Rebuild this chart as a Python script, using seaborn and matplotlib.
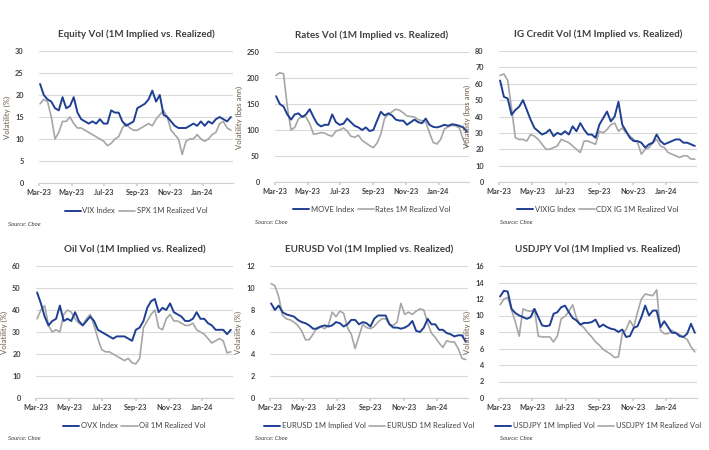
import numpy as np
import pandas as pd
import matplotlib
matplotlib.use("Agg")
import matplotlib.pyplot as plt
import matplotlib.dates as mdates
import seaborn as sns

# weekly readings (Fridays), Mar-23 .. Feb-24
dates = pd.date_range("2023-03-03", "2024-02-23", freq="W-FRI")

vix = [22.5, 20, 19, 18.5, 17, 16.5, 19.5, 17, 17.5, 19.5, 16, 14.5, 14,
       13.5, 14, 13.5, 14.5, 13.5, 13.5, 16.5, 16, 16, 14, 13, 13.5, 14,
       17, 17.5, 18, 19, 21, 18.5, 20, 15.5, 15, 14, 13, 12.5, 12.5, 12.5,
       13, 13.5, 13, 14, 13, 14, 13.5, 14.5, 15, 14.5, 14, 15]
spx_rv = [18, 19, 18.5, 15, 10, 11.5, 14, 14, 15, 13.5, 12.5, 12.5, 12,
          11.5, 11, 10.5, 10, 9.5, 8.5, 9, 10, 10.5, 12.5, 13.5, 12.5, 12,
          12, 12.5, 13, 13.5, 13, 14.5, 15.5, 16.5, 15, 12, 11, 10, 6.5, 9.5,
          10, 10, 11, 10, 9.5, 10, 11, 11.5, 13.5, 14, 12.5, 12]

move = [165, 150, 145, 130, 120, 130, 132, 125, 130, 140, 125, 112, 107,
        110, 110, 130, 115, 110, 112, 122, 115, 108, 105, 100, 105, 98,
        100, 118, 135, 128, 132, 128, 120, 118, 118, 110, 115, 120, 115,
        113, 122, 110, 106, 105, 107, 110, 108, 111, 110, 108, 105, 97]
rates_rv = [205, 210, 208, 145, 100, 105, 122, 126, 125, 112, 92, 93, 95,
            94, 90, 88, 98, 100, 104, 98, 88, 86, 90, 80, 75, 70, 66, 75,
            92, 122, 130, 135, 140, 138, 133, 127, 126, 125, 120, 118, 115,
            95, 76, 73, 82, 102, 106, 109, 108, 104, 82, 68]

vixig = [62, 52, 51, 41, 44, 46, 50, 44, 38, 33, 31, 29, 30, 32, 28, 30,
         29, 31, 29, 34, 31, 36, 32, 29, 29, 27, 35, 39, 43, 37, 40, 49,
         35, 31, 27, 25, 25, 24, 21, 23, 24, 29, 25, 23, 24, 25, 26, 26,
         24, 24, 23, 22]
cdx_rv = [65, 66, 62, 45, 27, 26, 26, 25, 29, 28, 26, 23, 20, 20, 21, 22,
          26, 25, 24, 22, 20, 18, 25, 25, 24, 23, 31, 30, 32, 35, 36, 31,
          33, 30, 28, 26, 24, 17, 20, 21, 24, 26, 22, 21, 18, 17, 16, 15,
          16, 16, 14, 14]

ovx = [48, 43, 37, 33, 35, 36, 42, 35, 36, 35, 39, 35, 33, 35, 37, 35,
       31, 30, 29, 28, 27, 28, 28, 28, 27, 26, 31, 32, 35, 41, 44, 45, 39,
       41, 40, 43, 39, 38, 37, 35, 35, 36, 39, 36, 36, 34, 33, 31, 31, 31,
       29, 31]
oil_rv = [36, 40, 42, 33, 30, 31, 30, 38, 40, 39, 36, 34, 33, 36, 38, 33,
          27, 22, 21, 21, 20, 19, 18, 17, 18, 16, 15.5, 18, 32, 35, 38, 40,
          32, 31, 36, 38, 35, 35, 34, 33, 33, 34, 31, 30, 29, 27, 25, 26,
          27, 26, 20.5, 21]

eur_iv = [8.6, 8.0, 8.4, 7.8, 7.6, 7.5, 7.4, 7.1, 6.9, 6.8, 6.6, 6.3, 6.3,
          6.5, 6.6, 6.5, 6.6, 6.9, 6.8, 6.5, 6.7, 7.1, 7.1, 6.7, 6.9, 6.8,
          6.5, 7.2, 7.5, 7.5, 7.5, 6.7, 6.4, 6.4, 6.3, 6.4, 6.6, 7.0, 6.1,
          6.0, 6.4, 7.2, 6.7, 6.7, 6.2, 6.2, 5.9, 5.8, 5.6, 5.7, 5.7, 5.1]
eur_rv = [10.4, 10.2, 9.2, 7.5, 7.2, 7.1, 6.9, 6.6, 6.1, 5.3, 5.3, 5.8,
          6.4, 6.5, 6.3, 6.6, 7.8, 7.4, 7.9, 7.7, 6.4, 5.8, 4.5, 5.6, 6.7,
          6.4, 6.3, 6.5, 6.9, 7.2, 7.2, 6.7, 6.6, 6.9, 8.6, 7.6, 7.8, 7.6,
          7.9, 8.1, 8.0, 6.8, 5.9, 5.5, 5.0, 4.6, 5.2, 5.1, 5.1, 4.5, 3.6,
          3.5]

jpy_iv = [12.3, 13.0, 12.9, 10.8, 10.3, 10.0, 9.8, 9.6, 9.8, 10.8, 9.8,
          8.8, 8.7, 8.8, 10.2, 10.4, 11.0, 11.2, 10.4, 9.7, 9.4, 8.9, 9.1,
          9.1, 9.2, 9.5, 8.6, 8.9, 8.6, 8.4, 8.3, 8.0, 8.3, 7.4, 7.5, 8.5,
          8.7, 9.8, 11.2, 10.0, 10.6, 10.6, 8.6, 9.3, 8.6, 7.9, 7.9, 7.5,
          7.4, 7.8, 9.0, 7.9]
jpy_rv = [11.3, 12.0, 12.2, 10.7, 9.2, 7.5, 10.8, 10.6, 10.5, 10.8, 7.5,
          7.4, 7.4, 7.4, 6.8, 7.5, 9.6, 9.9, 10.5, 11.3, 9.7, 8.9, 8.5, 7.9,
          7.4, 6.8, 6.4, 5.9, 5.6, 5.3, 4.9, 5.0, 7.8, 8.3, 9.4, 8.6, 10.4,
          12.0, 12.6, 12.5, 12.4, 13.1, 8.2, 7.8, 7.8, 8.2, 7.9, 7.7, 7.4,
          7.1, 6.2, 5.6]

titles = ["Equity Vol (1M Implied vs. Realized)",
          "Rates Vol (1M Implied vs. Realized)",
          "IG Credit Vol (1M Implied vs. Realized)",
          "Oil Vol (1M Implied vs. Realized)",
          "EURUSD Vol (1M Implied vs. Realized)",
          "USDJPY Vol (1M Implied vs. Realized)"]
ylabels = ["Volatility (%)", "Volatility (bps ann)", "Volatility (bps ann)",
           "Volatility (%)", "Volatility (%)", "Volatility (%)"]
implied_names = ["VIX Index", "MOVE Index", "VIXIG Index", "OVX Index",
                 "EURUSD 1M Implied Vol", "USDJPY 1M Implied Vol"]
realized_names = ["SPX 1M Realized Vol", "Rates 1M Realized Vol",
                  "CDX IG 1M Realized Vol", "Oil 1M Realized Vol",
                  "EURUSD 1M Realized Vol", "USDJPY 1M Realized Vol"]
implied = [vix, move, vixig, ovx, eur_iv, jpy_iv]
realized = [spx_rv, rates_rv, cdx_rv, oil_rv, eur_rv, jpy_rv]
ymax = [30, 250, 80, 60, 12, 16]
ystep = [5, 50, 10, 10, 2, 2]

sns.set_theme(style="white")
plt.rcParams["font.family"] = ["Lato", "DejaVu Sans"]

BLUE = "#1f3f93"
GREY = "#a6a6a6"
TXT = "#404040"

fig = plt.figure(figsize=(7.09, 4.5), dpi=100)

# axes boxes in pixels: left, right, top, bottom
boxes = [(39, 233, 51, 183), (275, 469, 52, 182), (499, 697, 51, 182),
         (36, 233, 266, 398), (270, 468, 266, 398), (499, 697, 266, 398)]

for i, (l, r, t, b) in enumerate(boxes):
    ax = fig.add_axes([l / 709, 1 - b / 450, (r - l) / 709, (b - t) / 450])
    sns.lineplot(x=dates, y=realized[i], ax=ax, color=GREY, lw=1.2,
                 label=realized_names[i])
    sns.lineplot(x=dates, y=implied[i], ax=ax, color=BLUE, lw=1.4,
                 label=implied_names[i])

    ax.set_ylim(0, ymax[i])
    ax.set_yticks(np.arange(0, ymax[i] + 1, ystep[i]))
    ax.set_xlim(pd.Timestamp("2023-03-01"), pd.Timestamp("2024-02-27"))
    ax.xaxis.set_major_locator(mdates.MonthLocator(bymonth=[1, 3, 5, 7, 9, 11]))
    ax.xaxis.set_major_formatter(mdates.DateFormatter("%b-%y"))
    ax.grid(axis="y", color="#d9d9d9", lw=0.8)
    ax.set_axisbelow(True)
    for s in ["left", "right", "top"]:
        ax.spines[s].set_visible(False)
    ax.spines["bottom"].set_color("#d0d0d0")
    ax.spines["bottom"].set_linewidth(0.8)
    ax.tick_params(axis="x", bottom=True, length=2, color="#d0d0d0",
                   labelsize=5.3, labelcolor=TXT, pad=2)
    ax.tick_params(axis="y", left=False, labelsize=5.3, labelcolor=TXT, pad=5)
    for lab in ax.get_xticklabels() + ax.get_yticklabels():
        lab.set_fontweight("bold")
    ax.set_xlabel("")
    ax.set_ylabel(ylabels[i], fontsize=5.6, color="#6b5a45", labelpad=3)
    ax.set_title(titles[i], fontsize=7.1, fontweight="bold", color=TXT, pad=10)

    handles, labels = ax.get_legend_handles_labels()
    ax.legend(handles[::-1], labels[::-1], loc="center",
              bbox_to_anchor=(0.5, -0.21), ncol=2, frameon=False,
              fontsize=5.5, handlelength=2.1, columnspacing=0.5,
              handletextpad=0.2, labelcolor=TXT)

    src_x = 8 if l < 100 else (255 if l < 400 else 500)
    src_y = b + 41
    fig.text(src_x / 709, 1 - src_y / 450, "Source: Cboe", fontsize=4.3,
             style="italic", color=TXT, va="center")

fig.savefig("out.png", dpi=100)
